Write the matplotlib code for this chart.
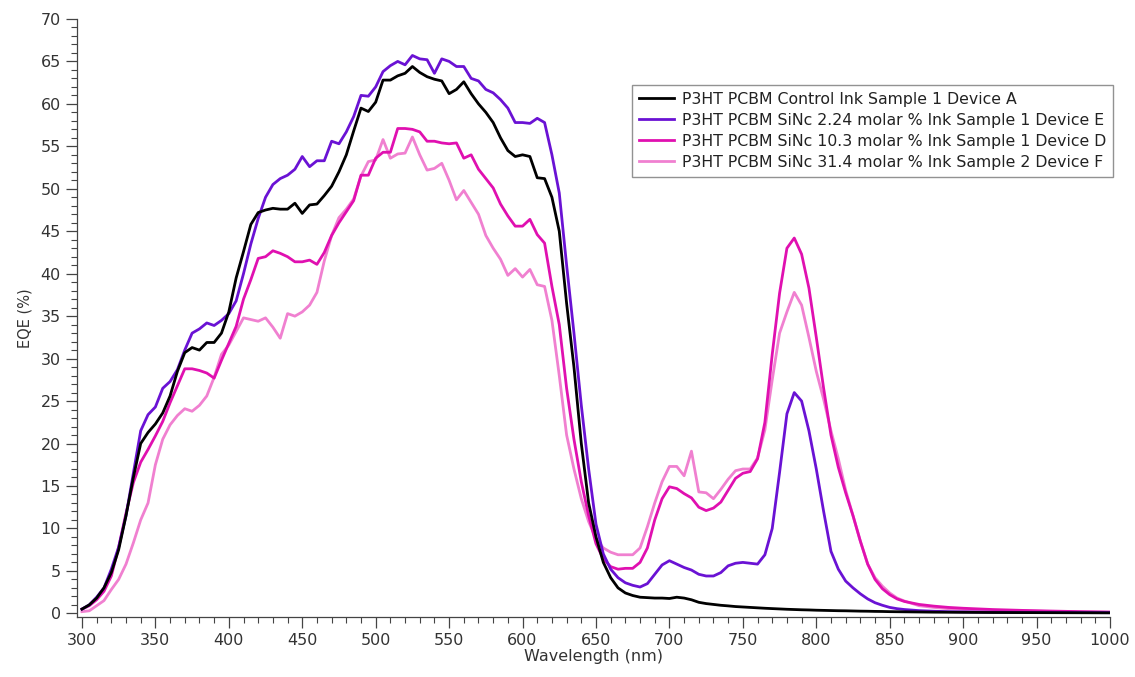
import numpy as np
import matplotlib
matplotlib.use("Agg")
import matplotlib.pyplot as plt
from matplotlib.ticker import MultipleLocator

#%% Data (EQE in %, wavelength in nm)
wavelength = list(range(300, 861, 5)) + [870, 880, 890, 900, 920, 940, 960, 980, 1000]

control_a = [
    0.5, 1.0, 1.8, 3.0, 4.8, 7.5, 11.5, 16.0, 20.0, 21.3,       # 300-345
    22.3, 23.6, 25.6, 28.5, 30.7, 31.3, 31.0, 31.9, 31.9, 33.0,  # 350-395
    35.5, 39.5, 42.6, 45.8, 47.2, 47.5, 47.7, 47.6, 47.6, 48.3,  # 400-445
    47.1, 48.1, 48.2, 49.2, 50.3, 52.0, 54.0, 56.8, 59.5, 59.1,  # 450-495
    60.2, 62.8, 62.8, 63.3, 63.6, 64.4, 63.7, 63.2, 62.9, 62.7,  # 500-545
    61.2, 61.7, 62.6, 61.2, 60.0, 59.0, 57.8, 56.0, 54.5, 53.8,  # 550-595
    54.0, 53.8, 51.3, 51.2, 49.0, 45.0, 36.5, 29.0, 20.0, 13.0,  # 600-645
    9.0, 6.0, 4.2, 3.0, 2.4, 2.1, 1.9, 1.85, 1.8, 1.8,           # 650-695
    1.75, 1.9, 1.8, 1.6, 1.3, 1.15, 1.05, 0.95, 0.88, 0.8,       # 700-745
    0.75, 0.7, 0.65, 0.6, 0.56, 0.52, 0.48, 0.45, 0.42, 0.4,     # 750-795
    0.37, 0.35, 0.33, 0.31, 0.3, 0.28, 0.26, 0.25, 0.23, 0.22,   # 800-845
    0.2, 0.19, 0.18,                                             # 850-860
    0.16, 0.14, 0.13, 0.12, 0.1, 0.09, 0.08, 0.07, 0.06,         # 870-1000
]

sinc_224_e = [
    0.5, 1.0, 1.9, 3.0, 5.2, 7.8, 11.5, 16.5, 21.5, 23.4,
    24.3, 26.5, 27.3, 28.7, 31.0, 33.0, 33.5, 34.2, 33.9, 34.5,
    35.3, 36.8, 40.0, 43.5, 46.5, 49.0, 50.5, 51.2, 51.6, 52.3,
    53.8, 52.6, 53.3, 53.3, 55.6, 55.3, 56.7, 58.5, 61.0, 60.9,
    62.0, 63.8, 64.5, 65.0, 64.6, 65.7, 65.3, 65.2, 63.6, 65.3,
    65.0, 64.4, 64.4, 63.0, 62.7, 61.7, 61.3, 60.5, 59.5, 57.8,
    57.8, 57.7, 58.3, 57.8, 54.0, 49.5, 41.0, 33.0, 24.5, 17.0,
    10.5, 7.0, 5.2, 4.2, 3.6, 3.3, 3.1, 3.5, 4.6, 5.7,
    6.2, 5.8, 5.4, 5.1, 4.6, 4.4, 4.4, 4.8, 5.6, 5.9,
    6.0, 5.9, 5.8, 6.9, 10.0, 16.6, 23.5, 26.0, 25.0, 21.5,
    17.0, 12.0, 7.3, 5.2, 3.8, 3.0, 2.3, 1.7, 1.25, 0.95,
    0.7, 0.55, 0.45,
    0.32, 0.25, 0.2, 0.17, 0.13, 0.11, 0.1, 0.09, 0.08,
]

sinc_103_d = [
    0.5, 0.9, 1.6, 2.6, 4.4, 7.8, 11.8, 15.4, 17.8, 19.3,
    20.9, 22.6, 24.8, 26.8, 28.8, 28.8, 28.6, 28.3, 27.7, 29.8,
    31.8, 33.8, 37.0, 39.3, 41.8, 42.0, 42.7, 42.4, 42.0, 41.4,
    41.4, 41.6, 41.1, 42.5, 44.5, 46.0, 47.3, 48.6, 51.6, 51.6,
    53.6, 54.3, 54.3, 57.1, 57.1, 57.0, 56.7, 55.6, 55.6, 55.4,
    55.3, 55.4, 53.6, 54.0, 52.3, 51.2, 50.1, 48.2, 46.8, 45.6,
    45.6, 46.4, 44.6, 43.6, 38.5, 34.0, 26.5, 20.5, 15.5, 11.5,
    8.2, 6.4, 5.5, 5.2, 5.3, 5.3, 6.0, 7.7, 11.0, 13.5,
    14.9, 14.7, 14.1, 13.6, 12.5, 12.1, 12.4, 13.1, 14.5, 15.9,
    16.5, 16.7, 18.2, 22.5, 30.5, 37.7, 43.0, 44.2, 42.3, 38.3,
    32.5, 26.5, 21.0, 17.2, 14.2, 11.5, 8.5, 5.8, 4.0, 2.9,
    2.2, 1.7, 1.4,
    1.05, 0.85, 0.7, 0.6, 0.45, 0.35, 0.27, 0.2, 0.15,
]

sinc_314_f = [
    0.2, 0.3, 0.9, 1.5, 2.8, 4.0, 5.8, 8.3, 11.0, 13.0,
    17.5, 20.5, 22.2, 23.3, 24.1, 23.8, 24.5, 25.6, 27.8, 30.5,
    31.6, 33.2, 34.8, 34.6, 34.4, 34.8, 33.7, 32.4, 35.3, 35.0,
    35.5, 36.3, 37.8, 41.5, 44.5, 46.6, 47.6, 48.8, 51.5, 53.2,
    53.4, 55.8, 53.6, 54.1, 54.2, 56.1, 54.0, 52.2, 52.4, 53.0,
    51.0, 48.7, 49.8, 48.4, 47.0, 44.5, 43.0, 41.7, 39.8, 40.6,
    39.6, 40.5, 38.7, 38.5, 34.5, 28.0, 21.0, 17.0, 13.5, 10.8,
    8.8, 7.7, 7.2, 6.9, 6.9, 6.9, 7.7, 10.2, 13.0, 15.5,
    17.3, 17.3, 16.2, 19.1, 14.3, 14.2, 13.5, 14.6, 15.8, 16.8,
    17.0, 17.0, 18.3, 21.6, 27.5, 33.0, 35.5, 37.8, 36.3, 32.5,
    28.5, 25.2, 21.5, 18.2, 14.5, 11.5, 8.5, 5.8, 4.2, 3.2,
    2.4, 1.8, 1.45,
    0.9, 0.7, 0.55, 0.45, 0.35, 0.28, 0.22, 0.17, 0.13,
]

labels = [
    "P3HT PCBM Control Ink Sample 1 Device A",
    "P3HT PCBM SiNc 2.24 molar % Ink Sample 1 Device E",
    "P3HT PCBM SiNc 10.3 molar % Ink Sample 1 Device D",
    "P3HT PCBM SiNc 31.4 molar % Ink Sample 2 Device F",
]
colors = ["#000000", "#6a12d4", "#e010b0", "#f080d0"]

#%% Plot
plt.rcParams['font.family'] = ['DejaVu Sans']

fig = plt.figure(figsize=(11.35, 6.77), dpi=100)
ax = fig.add_axes([0.0678, 0.089, 0.978 - 0.0678, 0.972 - 0.089])

# darker curves sit on top of the lighter ones
series = [control_a, sinc_224_e, sinc_103_d, sinc_314_f]
handles = []
for vals, lab, col, z in zip(series, labels, colors, [4, 3, 2, 1]):
    h, = ax.plot(wavelength, vals, color=col, lw=2.0, label=lab, zorder=z)
    handles.append(h)

ax.set_xlim(296.6, 1000)
ax.set_ylim(-0.4, 70)

ax.xaxis.set_major_locator(MultipleLocator(50))
ax.xaxis.set_minor_locator(MultipleLocator(10))
ax.yaxis.set_major_locator(MultipleLocator(5))
ax.yaxis.set_minor_locator(MultipleLocator(1))

for s in ['top', 'right']:
    ax.spines[s].set_visible(False)
for s in ['left', 'bottom']:
    ax.spines[s].set_color('#444444')
    ax.spines[s].set_linewidth(0.9)

ax.tick_params(which='major', direction='out', length=8, width=0.9,
               color='#444444', labelsize=11.5, labelcolor='#333333')
ax.tick_params(which='minor', direction='out', length=4.5, width=0.8,
               color='#444444')

ax.set_xlabel('Wavelength (nm)', fontsize=11.5, color='#333333', labelpad=1)
ax.set_ylabel('EQE (%)', fontsize=10.5, color='#333333', labelpad=6)

leg = ax.legend(handles=handles, loc='upper left',
                bbox_to_anchor=(0.557, 0.875), bbox_transform=fig.transFigure,
                fontsize=11.3, frameon=True, fancybox=False,
                handlelength=2.2, handletextpad=0.5, labelspacing=0.38,
                borderpad=0.45, borderaxespad=0)
leg.get_frame().set_edgecolor('#777777')
leg.get_frame().set_linewidth(1.0)
for t in leg.get_texts():
    t.set_color('#222222')

fig.savefig('out.png', dpi=100)
